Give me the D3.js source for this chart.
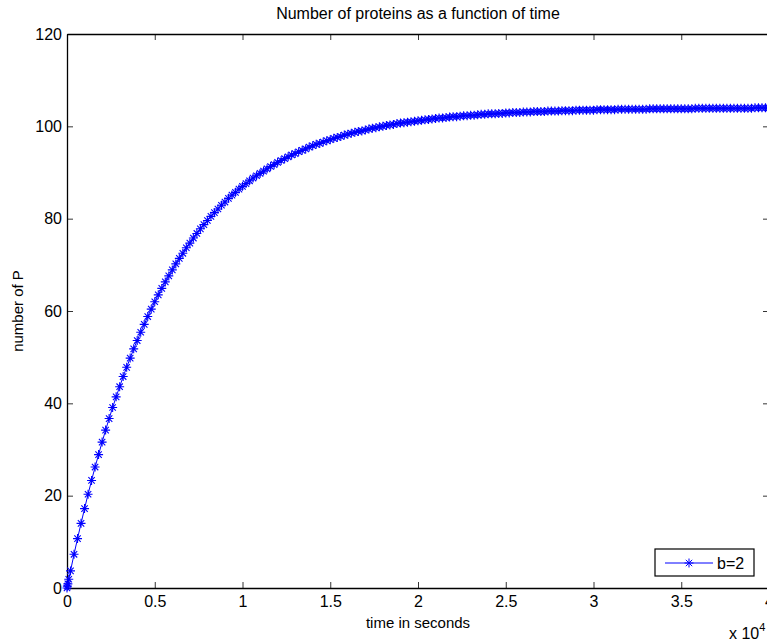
<!DOCTYPE html>
<html>
<head>
<meta charset="utf-8">
<script src="https://cdn.jsdelivr.net/npm/d3@7"></script>
<style>
    body { margin: 0; background: #fff; overflow: hidden; }
    svg { display: block; font-family: "Liberation Sans", Arial, Helvetica, sans-serif; }
    .axis path, .axis line { stroke: #000; }
    .axis text { font-size: 16px; fill: #000; font-family: "Liberation Sans", Arial, sans-serif; }
</style>
</head>
<body>
<div id="chart"></div>
<script>
    // Data (time in seconds, number of proteins P)
    var timeSeconds = [0, 20, 50, 100,
        200, 400, 600, 800, 1000, 1200, 1400, 1600, 1800, 2000,
        2200, 2400, 2600, 2800, 3000, 3200, 3400, 3600, 3800, 4000,
        4200, 4400, 4600, 4800, 5000, 5200, 5400, 5600, 5800, 6000,
        6200, 6400, 6600, 6800, 7000, 7200, 7400, 7600, 7800, 8000,
        8200, 8400, 8600, 8800, 9000, 9200, 9400, 9600, 9800, 10000,
        10200, 10400, 10600, 10800, 11000, 11200, 11400, 11600, 11800, 12000,
        12200, 12400, 12600, 12800, 13000, 13200, 13400, 13600, 13800, 14000,
        14200, 14400, 14600, 14800, 15000, 15200, 15400, 15600, 15800, 16000,
        16200, 16400, 16600, 16800, 17000, 17200, 17400, 17600, 17800, 18000,
        18200, 18400, 18600, 18800, 19000, 19200, 19400, 19600, 19800, 20000,
        20200, 20400, 20600, 20800, 21000, 21200, 21400, 21600, 21800, 22000,
        22200, 22400, 22600, 22800, 23000, 23200, 23400, 23600, 23800, 24000,
        24200, 24400, 24600, 24800, 25000, 25200, 25400, 25600, 25800, 26000,
        26200, 26400, 26600, 26800, 27000, 27200, 27400, 27600, 27800, 28000,
        28200, 28400, 28600, 28800, 29000, 29200, 29400, 29600, 29800, 30000,
        30200, 30400, 30600, 30800, 31000, 31200, 31400, 31600, 31800, 32000,
        32200, 32400, 32600, 32800, 33000, 33200, 33400, 33600, 33800, 34000,
        34200, 34400, 34600, 34800, 35000, 35200, 35400, 35600, 35800, 36000,
        36200, 36400, 36600, 36800, 37000, 37200, 37400, 37600, 37800, 38000,
        38200, 38400, 38600, 38800, 39000, 39200, 39400, 39600, 39800, 40000];
    var proteinCount = [0, 0.4, 0.9, 1.9,
        3.7, 7.3, 10.7, 14.0, 17.2, 20.3, 23.3, 26.2, 28.9, 31.6,
        34.2, 36.7, 39.1, 41.4, 43.6, 45.8, 47.8, 49.8, 51.8, 53.6,
        55.4, 57.1, 58.8, 60.4, 62.0, 63.5, 64.9, 66.3, 67.6, 68.9,
        70.2, 71.4, 72.5, 73.7, 74.7, 75.8, 76.8, 77.8, 78.7, 79.6,
        80.5, 81.3, 82.1, 82.9, 83.6, 84.4, 85.1, 85.7, 86.4, 87.0,
        87.6, 88.2, 88.8, 89.3, 89.8, 90.3, 90.8, 91.3, 91.7, 92.2,
        92.6, 93.0, 93.4, 93.8, 94.1, 94.5, 94.8, 95.1, 95.5, 95.8,
        96.1, 96.3, 96.6, 96.9, 97.1, 97.4, 97.6, 97.8, 98.1, 98.3,
        98.5, 98.7, 98.9, 99.0, 99.2, 99.4, 99.6, 99.7, 99.9, 100.0,
        100.2, 100.3, 100.4, 100.6, 100.7, 100.8, 100.9, 101.0, 101.1, 101.2,
        101.3, 101.4, 101.5, 101.6, 101.7, 101.8, 101.8, 101.9, 102.0, 102.1,
        102.1, 102.2, 102.3, 102.3, 102.4, 102.4, 102.5, 102.6, 102.6, 102.7,
        102.7, 102.7, 102.8, 102.8, 102.9, 102.9, 103.0, 103.0, 103.0, 103.1,
        103.1, 103.1, 103.2, 103.2, 103.2, 103.2, 103.3, 103.3, 103.3, 103.3,
        103.4, 103.4, 103.4, 103.4, 103.5, 103.5, 103.5, 103.5, 103.5, 103.5,
        103.6, 103.6, 103.6, 103.6, 103.6, 103.6, 103.7, 103.7, 103.7, 103.7,
        103.7, 103.7, 103.7, 103.7, 103.7, 103.8, 103.8, 103.8, 103.8, 103.8,
        103.8, 103.8, 103.8, 103.8, 103.8, 103.8, 103.8, 103.8, 103.9, 103.9,
        103.9, 103.9, 103.9, 103.9, 103.9, 103.9, 103.9, 103.9, 103.9, 103.9,
        103.9, 103.9, 103.9, 103.9, 103.9, 104.0, 104.0, 104.0, 104.0, 104.0];
    var xTicks = [0, 0.5, 1, 1.5, 2, 2.5, 3, 3.5, 4];   // x 10^4 seconds
    var yTicks = [0, 20, 40, 60, 80, 100, 120];
    var seriesLabel = "b=2";

    var width = 767, height = 644;
    var plot = { left: 67, top: 34, right: 769, bottom: 588 };

    var svg = d3.select("#chart").append("svg")
        .attr("width", width).attr("height", height);

    var xScale = d3.scaleLinear().domain([0, 4]).range([plot.left, plot.right]);
    var yScale = d3.scaleLinear().domain([0, 120]).range([plot.bottom, plot.top]);

    var points = timeSeconds.map(function(t, i) {
        return { x: t / 1e4, y: proteinCount[i] };
    });

    // axes (MATLAB style, ticks inward, box)
    var fmt = function(d) { return String(d); };
    svg.append("g").attr("class", "axis")
        .attr("transform", "translate(0," + plot.bottom + ")")
        .call(d3.axisBottom(xScale).tickValues(xTicks).tickFormat(fmt).tickSizeInner(-6).tickSizeOuter(0).tickPadding(8));
    svg.append("g").attr("class", "axis")
        .attr("transform", "translate(0," + plot.top + ")")
        .call(d3.axisTop(xScale).tickValues(xTicks).tickFormat("").tickSizeInner(-6).tickSizeOuter(0));
    svg.append("g").attr("class", "axis")
        .attr("transform", "translate(" + plot.left + ",0)")
        .call(d3.axisLeft(yScale).tickValues(yTicks).tickFormat(fmt).tickSizeInner(-6).tickSizeOuter(0).tickPadding(5));
    svg.append("g").attr("class", "axis")
        .attr("transform", "translate(" + plot.right + ",0)")
        .call(d3.axisRight(yScale).tickValues(yTicks).tickFormat("").tickSizeInner(-6).tickSizeOuter(0));
    svg.selectAll(".axis path").attr("stroke-width", 1.3);
    svg.selectAll(".axis line").attr("stroke-width", 0.8);

    // line + star markers
    var line = d3.line().x(function(d) { return xScale(d.x); }).y(function(d) { return yScale(d.y); });
    svg.append("path").datum(points)
        .attr("d", line)
        .attr("fill", "none")
        .attr("stroke", "#0000ff")
        .attr("stroke-width", 1);

    var star = "M-4.5,0H4.5M0,-4.5V4.5M-3.2,-3.2L3.2,3.2M-3.2,3.2L3.2,-3.2";
    svg.append("g").selectAll("path").data(points).enter().append("path")
        .attr("transform", function(d) { return "translate(" + xScale(d.x) + "," + yScale(d.y) + ")"; })
        .attr("d", star)
        .attr("stroke", "#0000ff")
        .attr("stroke-width", 1.1)
        .attr("fill", "none");

    // texts
    svg.append("text")
        .attr("x", (plot.left + plot.right) / 2).attr("y", 19)
        .attr("text-anchor", "middle").attr("font-size", 16)
        .text("Number of proteins as a function of time");
    svg.append("text")
        .attr("x", (plot.left + plot.right) / 2).attr("y", 628)
        .attr("text-anchor", "middle").attr("font-size", 15)
        .text("time in seconds");
    svg.append("text")
        .attr("transform", "translate(23," + (plot.top + plot.bottom) / 2 + ") rotate(-90)")
        .attr("text-anchor", "middle").attr("font-size", 15)
        .text("number of P");
    var mult = svg.append("text").attr("x", 729).attr("y", 639).attr("font-size", 16);
    mult.append("tspan").text("x 10");
    mult.append("tspan").attr("dy", -8).attr("font-size", 11).text("4");

    // legend
    var lg = svg.append("g").attr("transform", "translate(655,549)");
    lg.append("rect").attr("width", 99).attr("height", 27)
        .attr("fill", "#fff").attr("stroke", "#000").attr("stroke-width", 1.2);
    lg.append("line").attr("x1", 10).attr("x2", 58).attr("y1", 14).attr("y2", 14)
        .attr("stroke", "#0000ff").attr("stroke-width", 1);
    lg.append("path").attr("transform", "translate(34,14)").attr("d", star)
        .attr("stroke", "#0000ff").attr("fill", "none");
    lg.append("text").attr("x", 62).attr("y", 20).attr("font-size", 16).text(seriesLabel);
</script>
</body>
</html>
